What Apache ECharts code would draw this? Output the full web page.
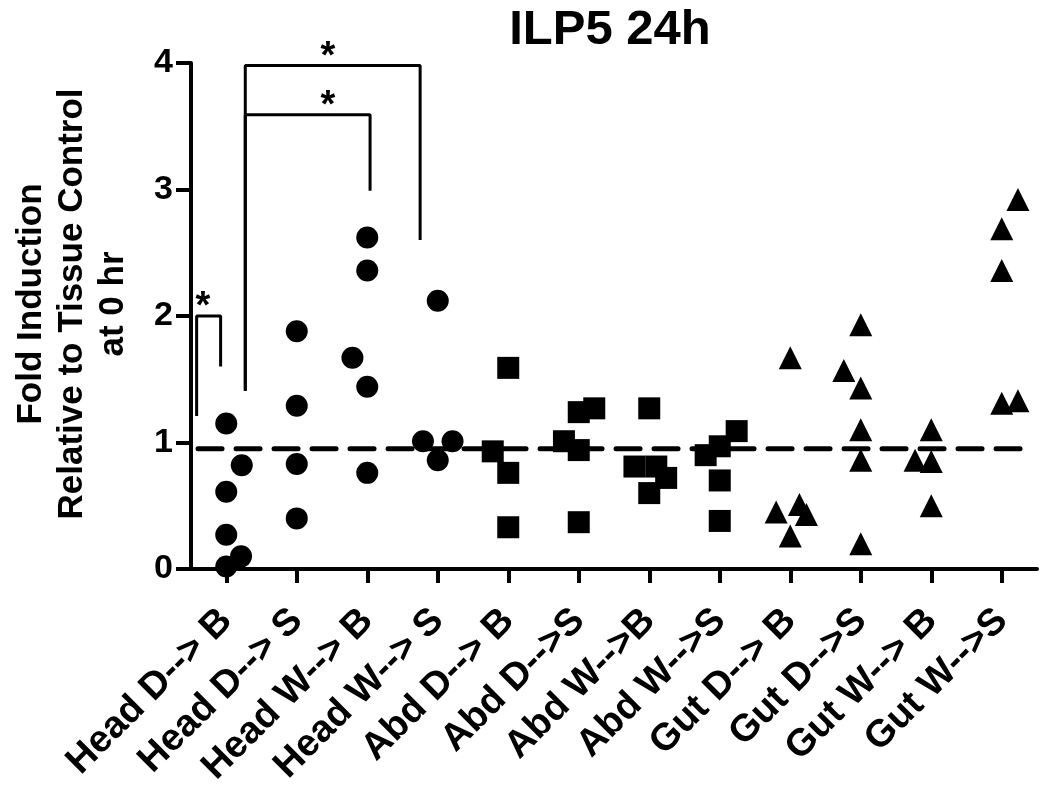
<!DOCTYPE html>
<html>
<head>
<meta charset="utf-8">
<script src="https://cdn.jsdelivr.net/npm/echarts/dist/echarts.min.js"></script>
<style>
  html, body { margin: 0; padding: 0; background: #fff; }
  #chart { width: 1050px; height: 796px; }
</style>
</head>
<body>
<div id="chart"></div>
<script>
// categories on the x axis
var categories = [
  "Head D--> B", "Head D--> S", "Head W--> B", "Head W--> S",
  "Abd D--> B", "Abd D-->S", "Abd W-->B", "Abd W-->S",
  "Gut D--> B", "Gut D-->S", "Gut W--> B", "Gut W-->S"
];

// fold induction values, one array per group
var headDB = [1.15, 0.82, 0.61, 0.27, 0.10, 0.02];
var headDS = [1.88, 1.29, 0.83, 0.40];
var headWB = [2.62, 2.36, 1.67, 1.44, 0.76];
var headWS = [2.12, 1.01, 1.01, 0.86];
var abdDB = [1.59, 0.93, 0.76, 0.33];
var abdDS = [1.24, 1.27, 1.01, 0.94, 0.37];
var abdWB = [1.27, 0.81, 0.81, 0.72, 0.60];
var abdWS = [1.09, 0.97, 0.90, 0.70, 0.38];
var gutDB = [1.67, 0.45, 0.51, 0.43, 0.26];
var gutDS = [1.93, 1.57, 1.43, 1.10, 0.86, 0.20];
var gutWB = [1.10, 0.86, 0.85, 0.50];
var gutWS = [2.92, 2.69, 2.36, 1.31, 1.33];

// horizontal spread of overlapping points (in category widths)
var headDBj = [0, 0.22, 0, 0, 0.21, 0];
var headDSj = [0, 0, 0, 0];
var headWBj = [0, 0, -0.21, 0, 0];
var headWSj = [0, -0.21, 0.21, 0];
var abdDBj = [0, -0.22, 0, 0];
var abdDSj = [0, 0.22, -0.21, 0, 0];
var abdWBj = [0, -0.21, 0.1, 0.24, 0];
var abdWSj = [0.24, 0, -0.2, 0, 0];
var gutDBj = [0, -0.2, 0.13, 0.23, 0];
var gutDSj = [0, -0.24, 0, 0, 0, 0];
var gutWBj = [0, -0.23, 0, 0];
var gutWSj = [0.23, 0, 0, 0, 0.23];

// y axis ticks and reference level
var yTicks = [0, 1, 2, 3, 4];
var refLevel = 0.95;

// significance brackets: left leg x/bottom, right leg x/bottom, top, star position
var brackets = [
  { x0: -0.42, b0: 1.21, x1: -0.08, b1: 1.60, top: 2.00, star: [-0.33, 2.13] },
  { x0: 0.27, b0: 1.41, x1: 2.04, b1: 2.99, top: 3.59, star: [1.44, 3.72] },
  { x0: 0.27, b0: 1.41, x1: 2.75, b1: 2.60, top: 3.98, star: [1.44, 4.11] }
];

var font = "Liberation Sans";

function points(groups, jitters, startIdx) {
  var out = [];
  groups.forEach(function (vals, g) {
    vals.forEach(function (v, k) {
      out.push([startIdx + g + jitters[g][k], v]);
    });
  });
  return out;
}

var myChart = echarts.init(document.getElementById("chart"));

var series = [
  {
    name: "ref",
    type: "line",
    xAxisIndex: 1,
    symbol: "none",
    z: 1,
    silent: true,
    lineStyle: { color: "#000", width: 5, type: [24, 14], cap: "round" },
    data: [[-0.4, refLevel], [11.37, refLevel]]
  },
  {
    name: "Head",
    type: "scatter",
    xAxisIndex: 1,
    symbol: "circle",
    symbolSize: 22,
    z: 3,
    itemStyle: { color: "#000", opacity: 1 },
    data: points([headDB, headDS, headWB, headWS], [headDBj, headDSj, headWBj, headWSj], 0)
  },
  {
    name: "Abd",
    type: "scatter",
    xAxisIndex: 1,
    symbol: "rect",
    symbolSize: 22,
    z: 3,
    itemStyle: { color: "#000", opacity: 1 },
    data: points([abdDB, abdDS, abdWB, abdWS], [abdDBj, abdDSj, abdWBj, abdWSj], 4)
  },
  {
    name: "Gut",
    type: "scatter",
    xAxisIndex: 1,
    symbol: "triangle",
    symbolSize: 23,
    z: 3,
    itemStyle: { color: "#000", opacity: 1 },
    data: points([gutDB, gutDS, gutWB, gutWS], [gutDBj, gutDSj, gutWBj, gutWSj], 8)
  }
];

brackets.forEach(function (b) {
  series.push({
    type: "line",
    xAxisIndex: 1,
    symbol: "none",
    clip: false,
    silent: true,
    z: 2,
    lineStyle: { color: "#000", width: 3 },
    data: [[b.x0, b.b0], [b.x0, b.top], [b.x1, b.top], [b.x1, b.b1]]
  });
});

series.push({
  type: "scatter",
  xAxisIndex: 1,
  symbolSize: 1,
  clip: false,
  silent: true,
  itemStyle: { color: "rgba(0,0,0,0)", opacity: 1 },
  label: {
    show: true,
    position: "inside",
    formatter: "*",
    offset: [0, 8],
    color: "#000",
    opacity: 1,
    fontFamily: font,
    fontWeight: "bold",
    fontSize: 38
  },
  data: brackets.map(function (b) { return b.star; })
});

myChart.setOption({
  animation: false,
  backgroundColor: "#fff",
  grid: { left: 191, right: 13, top: 63, bottom: 227 },
  xAxis: [
    {
      type: "category",
      data: categories,
      boundaryGap: true,
      axisLine: { show: true, lineStyle: { color: "#000", width: 4 } },
      axisTick: { show: true, alignWithLabel: true, length: 14, lineStyle: { color: "#000", width: 4 } },
      axisLabel: {
        rotate: 45,
        margin: 46,
        interval: 0,
        color: "#000",
        fontFamily: font,
        fontWeight: "bold",
        fontSize: 38
      },
      splitLine: { show: false }
    },
    {
      type: "value",
      min: -0.5,
      max: 11.5,
      show: false
    }
  ],
  yAxis: {
    type: "value",
    min: yTicks[0],
    max: yTicks[yTicks.length - 1],
    interval: 1,
    axisLine: { show: true, onZero: false, lineStyle: { color: "#000", width: 4 } },
    axisTick: { show: true, length: 15, lineStyle: { color: "#000", width: 4 } },
    axisLabel: {
      margin: 18,
      color: "#000",
      fontFamily: font,
      fontWeight: "bold",
      fontSize: 34
    },
    splitLine: { show: false }
  },
  graphic: [
    {
      type: "text",
      x: 610,
      y: 30,
      style: {
        text: "ILP5 24h",
        fill: "#000",
        font: "bold 49px " + font,
        textAlign: "center",
        textVerticalAlign: "middle"
      }
    },
    {
      type: "text",
      x: 72,
      y: 304,
      rotation: Math.PI / 2,
      style: {
        text: "Fold Induction\nRelative to Tissue Control\nat 0 hr",
        fill: "#000",
        font: "bold 35px " + font,
        lineHeight: 41,
        textAlign: "center",
        textVerticalAlign: "middle"
      }
    }
  ],
  series: series
});

window.addEventListener("resize", function () { myChart.resize(); });
</script>
</body>
</html>
